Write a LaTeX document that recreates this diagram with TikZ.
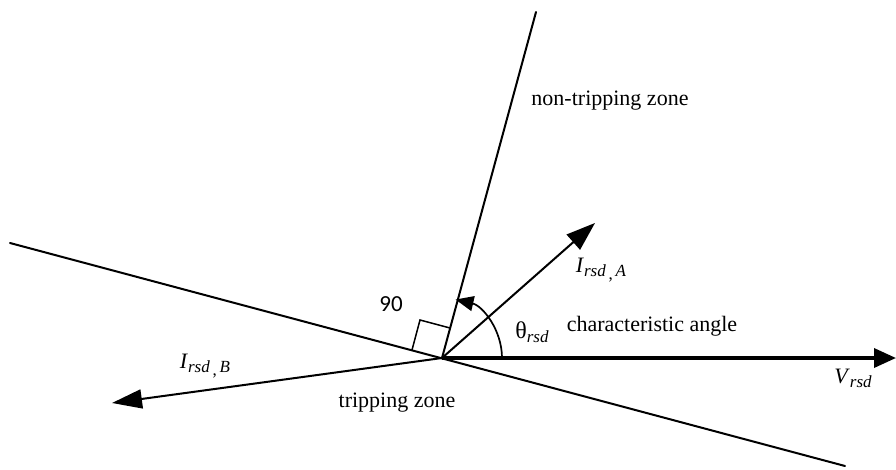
\documentclass[tikz,border=0pt]{standalone}
\usepackage{fontspec}
\setmainfont{Liberation Serif}
\newfontfamily\numfont{Carlito}
\usetikzlibrary{arrows.meta}
\newcommand\sbs[1]{\raisebox{-0.4ex}{\fontsize{17}{17}\selectfont #1}}
\begin{document}
\begin{tikzpicture}[x=1pt,y=-1pt,
  thinline/.style={line width=2pt,line cap=round},
  vecline/.style={line width=2pt,-{Triangle[length=29pt,width=20pt]}},
  lbl/.style={font=\fontsize{22}{26}\selectfont,inner sep=0pt}]
\useasboundingbox (0,0) rectangle (896,470);
% points
\coordinate (O) at (442,358);
\coordinate (Ntop) at (536,12);
\coordinate (Lleft) at (10,243);
\coordinate (Lright) at (845,466);
\coordinate (Vtip) at (896,358);
\coordinate (Atip) at (595,223);
\coordinate (Btip) at (112,403);
\coordinate (P1) at (412,350);
\coordinate (P2) at (450,328);
\coordinate (PC) at (420,320);
% boundary lines
\draw[thinline] (Lleft) -- (Lright);
\draw[thinline] (O) -- (Ntop);
% right angle mark
\draw[line width=1.5pt] (P1) -- (PC) -- (P2);
% vectors
\draw[line width=3.5pt,-{Triangle[length=22pt,width=19pt]}] (O) -- (Vtip);
\draw[vecline] (O) -- (Atip);
\draw[vecline,-{Triangle[length=30pt,width=19pt]}] (O) -- (Btip);
% angle arc
\draw[line width=1.7pt,-{Triangle[length=18pt,width=15pt]}] (O) ++(60pt,0pt) arc[start angle=0,end angle=77,radius=60pt];
% labels
\node[lbl,font=\numfont\fontsize{23}{26}\selectfont] (n90) at (391,304) {90};
\node[lbl] (theta) at (532,332) {{\fontsize{24}{26}\selectfont θ}\sbs{\textit{rsd}}};
\node[lbl] (charang) at (652,326) {characteristic angle};
\node[lbl] (IA) at (601,270) {\textit{I}\sbs{\textit{rsd}\,\raisebox{-0.3ex}{,}\,\textit{A}}};
\node[lbl] (nontrip) at (610,101) {non-tripping zone};
\node[lbl] (IB) at (205,366) {\textit{I}\sbs{\textit{rsd}\,\raisebox{-0.3ex}{,}\,\textit{B}}};
\node[lbl] (trip) at (397,403) {tripping zone};
\node[lbl] (V) at (853,378) {\textit{V}\sbs{\textit{rsd}}};
\end{tikzpicture}
\end{document}
